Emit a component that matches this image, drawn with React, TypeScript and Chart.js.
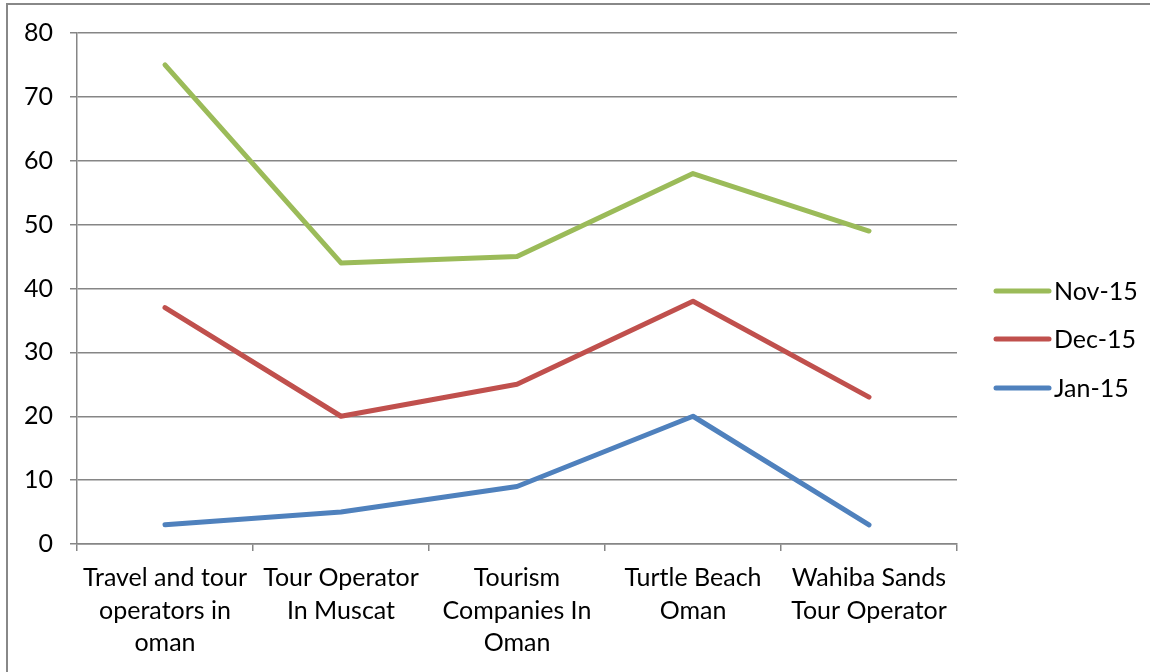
import React, { useEffect, useRef } from "react";
import { Chart, registerables } from "chart.js";

Chart.register(...registerables);

const categories: string[][] = [
  ["Travel and tour", "operators in", "oman"],
  ["Tour Operator", "In Muscat"],
  ["Tourism", "Companies In", "Oman"],
  ["Turtle Beach", "Oman"],
  ["Wahiba Sands", "Tour Operator"],
];
const nov15: number[] = [75, 44, 45, 58, 49];
const dec15: number[] = [37, 20, 25, 38, 23];
const jan15: number[] = [3, 5, 9, 20, 3];
const seriesNames: string[] = ["Nov-15", "Dec-15", "Jan-15"];
const seriesColors: string[] = ["#9BBB59", "#C0504D", "#4F81BD"];

const FONT = "Lato, sans-serif";
const FONT_SIZE = 25;

const legendPlugin = {
  id: "customLegend",
  afterDraw(chart: any) {
    const ctx = chart.ctx;
    const x0 = 996;
    const x1 = 1049;
    const ys = [291, 339, 388];
    ctx.save();
    chart.data.datasets.forEach((ds: any, i: number) => {
      ctx.strokeStyle = ds.borderColor;
      ctx.lineWidth = 5;
      ctx.lineCap = "round";
      ctx.beginPath();
      ctx.moveTo(x0, ys[i]);
      ctx.lineTo(x1, ys[i]);
      ctx.stroke();
      ctx.fillStyle = "#000";
      ctx.font = `${FONT_SIZE}px ${FONT}`;
      ctx.textBaseline = "middle";
      ctx.textAlign = "left";
      ctx.fillText(ds.label, 1054, ys[i] + 1);
    });
    ctx.restore();
  },
};

export default function App() {
  const ref = useRef<HTMLCanvasElement>(null);
  useEffect(() => {
    document.body.style.margin = "0";
    const values = [nov15, dec15, jan15];
    const chart = new Chart(ref.current!, {
      type: "line",
      data: {
        labels: categories as any,
        datasets: seriesNames.map((name, i) => ({
          label: name,
          data: values[i],
          borderColor: seriesColors[i],
          backgroundColor: seriesColors[i],
          borderWidth: 5,
          pointRadius: 0,
          borderCapStyle: "round",
          borderJoinStyle: "round",
          tension: 0,
        })),
      },
      options: {
        responsive: false,
        animation: false,
        layout: { padding: { top: 33, right: 193, bottom: 0, left: 0 } },
        plugins: {
          legend: { display: false },
          tooltip: { enabled: false },
        },
        scales: {
          x: {
            offset: true,
            grid: {
              offset: true,
              drawOnChartArea: false,
              drawTicks: true,
              tickLength: 7,
              color: "#868686",
              lineWidth: 1.5,
            },
            border: { color: "#868686", width: 1.5 },
            ticks: {
              color: "#000",
              font: { family: FONT, size: FONT_SIZE, lineHeight: 1.3 },
              maxRotation: 0,
              autoSkip: false,
              padding: 11,
            },
            afterFit: (scale: any) => {
              scale.height = 128;
            },
          },
          y: {
            min: 0,
            max: 80,
            grid: {
              color: "#868686",
              lineWidth: 1.5,
              tickLength: 7,
            },
            border: { color: "#868686", width: 1.5 },
            ticks: {
              stepSize: 10,
              color: "#000",
              font: { family: FONT, size: FONT_SIZE },
              padding: 17,
            },
            afterFit: (scale: any) => {
              scale.width = 77;
            },
          },
        },
      },
      plugins: [legendPlugin],
    });
    return () => chart.destroy();
  }, []);
  return (
    <div style={{ position: "relative", width: 1150, height: 672, background: "#fff" }}>
      <div
        style={{
          position: "absolute",
          left: 6,
          top: 3,
          right: -10,
          bottom: -10,
          borderLeft: "2px solid #888",
          borderTop: "2px solid #888",
        }}
      />
      <canvas ref={ref} width={1150} height={672} style={{ position: "absolute", left: 0, top: 0 }} />
    </div>
  );
}
